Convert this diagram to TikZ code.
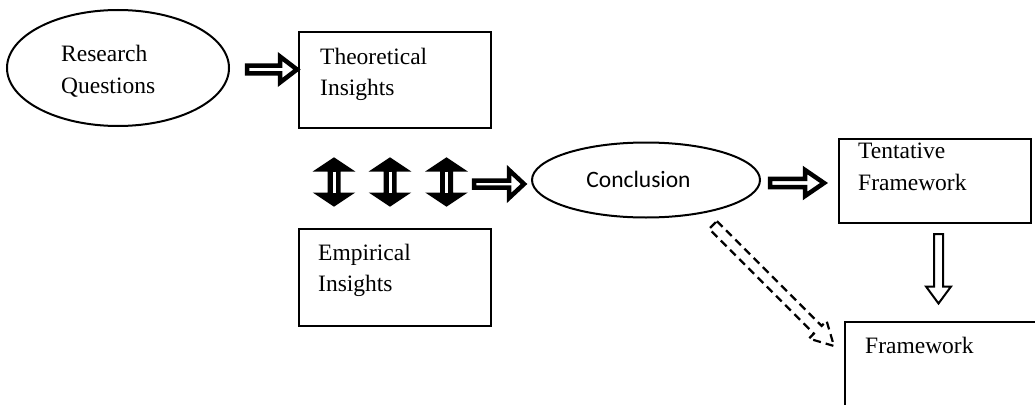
\documentclass[tikz,border=0pt]{standalone}
\usepackage{fontspec}
\setmainfont{Liberation Serif}
\newfontfamily\calib{Carlito}
\usetikzlibrary{calc,shapes.geometric}

% block arrow: style, tail, tip, shaft half width, head half width, head length
\newcommand\blockarr[6]{%
  \path ($(#3)!#6!(#2)$) coordinate (ba-base);
  \draw[#1] ($(#2)!#4!90:(#3)$) -- ($(ba-base)!#4!90:(#3)$)
    -- ($(ba-base)!#5!90:(#3)$) -- (#3) -- ($(ba-base)!#5!-90:(#3)$)
    -- ($(ba-base)!#4!-90:(#3)$) -- ($(#2)!#4!-90:(#3)$) -- cycle;}

% double-headed block arrow with solid heads and a light core in the shaft:
% end A, end B, shaft half width, head half width, head length
\newcommand\dblarr[5]{%
  \path ($(#1)!#5!(#2)$) coordinate (da-a) ($(#2)!#5!(#1)$) coordinate (da-b);
  \draw[solidarrow] (#1) -- ($(da-a)!#4!90:(#2)$) -- ($(da-a)!#3!90:(#2)$)
    -- ($(da-b)!#3!90:(#2)$) -- ($(da-b)!#4!90:(#2)$) -- (#2)
    -- ($(da-b)!#4!-90:(#2)$) -- ($(da-b)!#3!-90:(#2)$)
    -- ($(da-a)!#3!-90:(#2)$) -- ($(da-a)!#4!-90:(#2)$) -- cycle;
  \draw[arrowcore] ($(da-a)!1pt!(da-b)$) -- ($(da-b)!1pt!(da-a)$);}

\begin{document}
\begin{tikzpicture}[x=1pt,y=-1pt,
  box/.style={draw, line width=2pt, rectangle, inner sep=0pt, anchor=north west},
  oval/.style={draw, ellipse, line width=2pt, inner sep=0pt},
  lbl/.style={anchor=base west, align=left, inner sep=0pt,
    font=\fontsize{23.5}{31.5}\selectfont},
  fat/.style={draw, line width=4.5pt, fill=white},
  slim/.style={draw, line width=2pt, fill=white},
  solidarrow/.style={draw, fill=black, line width=2pt},
  arrowcore/.style={draw=white, line width=3pt},
  dasharrow/.style={draw, line width=2.2pt, dash pattern=on 8pt off 5pt}]

\useasboundingbox (0,0) rectangle (1035,404);
\fill[white] (0,0) rectangle (1035,404);
\clip (0,0) rectangle (1035,404);

% nodes (multi-line labels are placed by the baseline of their last line)
\node[oval, minimum width=222pt, minimum height=116pt] (rq) at (118,68) {};
\node[lbl] (rq-t) at (61,93) {Research\\Questions};

\node[box, minimum width=192pt, minimum height=96pt] (theo) at (298,31) {};
\node[lbl] (theo-t) at (320,95.5) {Theoretical\\Insights};

\node[box, minimum width=192pt, minimum height=97pt] (emp) at (298,228) {};
\node[lbl] (emp-t) at (318,291.5) {Empirical\\Insights};

\node[oval, minimum width=228pt, minimum height=75pt] (conc) at (646,180) {};
\node[anchor=base, inner sep=0pt, font=\calib\fontsize{23.5}{28}\selectfont]
  (conc-t) at (638.5,187) {Conclusion};

\node[box, minimum width=192pt, minimum height=84pt] (tent) at (838,138) {};
\node[lbl] (tent-t) at (858,190) {Tentative\\Framework};

\node[box, minimum width=220pt, minimum height=120pt] (fw) at (844,321) {};
\node[lbl] (fw-t) at (865,353) {Framework};

% arrow end points
\coordinate (a1t) at (247,69.5);   \coordinate (a1h) at (297,69.5);
\coordinate (a2t) at (474,184);    \coordinate (a2h) at (524,184);
\coordinate (a3t) at (770,183);    \coordinate (a3h) at (824,183);
\coordinate (a4t) at (938.5,234);  \coordinate (a4h) at (938.5,303.5);
\coordinate (a5t) at (713,225);    \coordinate (a5h) at (834,346);
\coordinate (d1a) at (334,158.5);  \coordinate (d1b) at (334,205.5);
\coordinate (d2a) at (390,158.5);  \coordinate (d2b) at (390,205.5);
\coordinate (d3a) at (446.5,158.5);\coordinate (d3b) at (446.5,205.5);

% connectors
\blockarr{fat}{a1t}{a1h}{3.8pt}{13pt}{17pt}
\blockarr{fat}{a2t}{a2h}{3.5pt}{14pt}{15pt}
\blockarr{fat}{a3t}{a3h}{4.2pt}{13pt}{19pt}
\blockarr{slim}{a4t}{a4h}{4.5pt}{12.5pt}{17pt}
\blockarr{dasharrow}{a5t}{a5h}{5.5pt}{12.5pt}{23pt}

\dblarr{d1a}{d1b}{5.5pt}{18pt}{12pt}
\dblarr{d2a}{d2b}{5.5pt}{18pt}{12pt}
\dblarr{d3a}{d3b}{5.5pt}{18pt}{12pt}

\end{tikzpicture}
\end{document}
